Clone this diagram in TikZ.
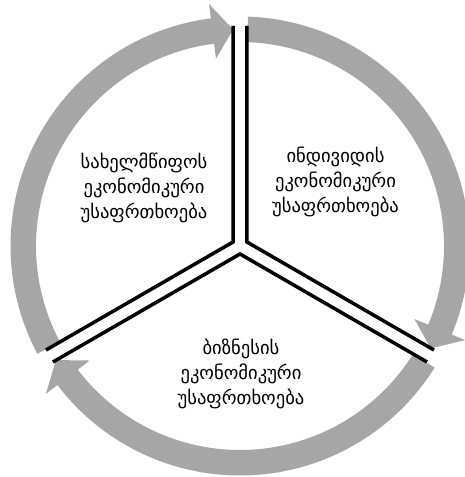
\documentclass[tikz,border=0pt]{standalone}
\usepackage{fontspec}
\usetikzlibrary{calc}
\newfontfamily\geofont{DejaVu Sans}
\definecolor{arrowgray}{RGB}{166,166,166}
\tikzset{
  cyclearrow/.style={fill=arrowgray, draw=none},
  wedgeline/.style={draw=black, line width=3.5pt, line join=miter},
  segtext/.style={align=center, font=\geofont\fontsize{18.6}{25}\selectfont, inner sep=0pt}
}
\newcommand{\cyclearc}[2]{% #1 tail angle, #2 tip angle (clockwise)
  \pgfmathsetmacro{\hb}{#2+5.5}
  \fill[cyclearrow, shift={(240,231)}]
    (#1:229.5) arc[start angle=#1, end angle=\hb, radius=229.5]
    -- (\hb:244) -- (#2:216.5) -- (\hb:189)
    -- (\hb:204) arc[start angle=\hb, end angle=#1, radius=204] -- cycle;
}
\begin{document}
\begin{tikzpicture}[x=1pt,y=1pt]
\useasboundingbox (0,0) rectangle (465,477);
\coordinate (C) at (240,231);
% gray circular arrows
\cyclearc{208}{91.8}
\cyclearc{88}{-28.2}
\cyclearc{-32}{-148.2}
% wedge apexes
\coordinate (Atl) at ($(C)+(150:8)$);
\coordinate (Atr) at ($(C)+(30:8)$);
\coordinate (Ab) at ($(C)+(270:8)$);
\draw[wedgeline] ($(Atl)+(90:216)$) coordinate (tl1) -- (Atl) -- ($(Atl)+(210:216)$) coordinate (tl2);
\draw[wedgeline] ($(Atr)+(90:216)$) coordinate (tr1) -- (Atr) -- ($(Atr)+(-30:216)$) coordinate (tr2);
\draw[wedgeline] ($(Ab)+(210:216)$) coordinate (b1) -- (Ab) -- ($(Ab)+(-30:216)$) coordinate (b2);
% texts
\node[segtext] (state) at (144,289) {სახელმწიფოს\\ეკონომიკური\\უსაფრთხოება};
\node[segtext] (indiv) at (335.5,295) {ინდივიდის\\ეკონომიკური\\უსაფრთხოება};
\node[segtext] (biz) at (241,103) {ბიზნესის\\ეკონომიკური\\უსაფრთხოება};
\end{tikzpicture}
\end{document}
